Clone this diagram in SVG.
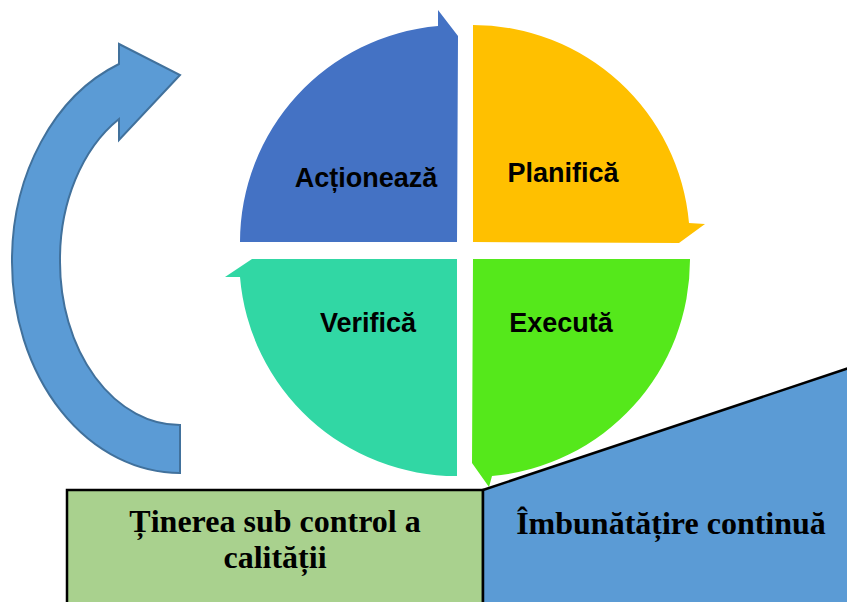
<svg xmlns="http://www.w3.org/2000/svg" width="847" height="602" viewBox="0 0 847 602">
<style>
.q{font-family:"Liberation Sans",Arial,sans-serif;font-weight:bold;font-size:27px;fill:#000;text-anchor:middle}
.b{font-family:"Liberation Serif","Times New Roman",serif;font-weight:bold;font-size:32px;fill:#000;text-anchor:middle}
</style>
<rect width="847" height="602" fill="#fff"/>
<g id="cycle-arrow">
<path d="M180,473 A168,211 0 0 1 12,262 A168,211 0 0 1 119,64 L119,44 L180,75 L119,140 L119,119 A120,163 0 0 0 60,262 A120,163 0 0 0 180,425 Z" fill="#5B9BD5" stroke="#41719C" stroke-width="2"/>
</g>
<g id="actioneaza">
<path d="M457,242 L240,242 A217,217 0 0 1 438,26 L438,10 L458,36 L457,242 Z" fill="#4472C4"/>
<text class="q" x="366" y="187">Acționează</text>
</g>
<g id="planifica">
<path d="M473,25 A217,217 0 0 1 689,223 L705,224 L679,243 L473,242 Z" fill="#FFC000"/>
<text class="q" x="563" y="182">Planifică</text>
</g>
<g id="executa">
<path d="M473,259 L690,259 A217,217 0 0 1 492,476 L489,487 L472,463 Z" fill="#55E81B"/>
<text class="q" x="561" y="332">Execută</text>
</g>
<g id="verifica">
<path d="M457,259 L457,476 A217,217 0 0 1 240,277 L225,277 L252,259 Z" fill="#31D7A4"/>
<text class="q" x="368" y="332">Verifică</text>
</g>
<g id="tinerea">
<rect x="67" y="490" width="416" height="120" fill="#A9D18E" stroke="#000" stroke-width="2.5"/>
<text class="b" x="275" y="532">Ținerea sub control a</text>
<text class="b" x="275" y="568">calității</text>
</g>
<g id="imbunatatire">
<path d="M483,490 L849,368 L849,610 L483,610 Z" fill="#5B9BD5" stroke="#000" stroke-width="2.5"/>
<text class="b" x="671" y="534">Îmbunătățire continuă</text>
</g>
</svg>
